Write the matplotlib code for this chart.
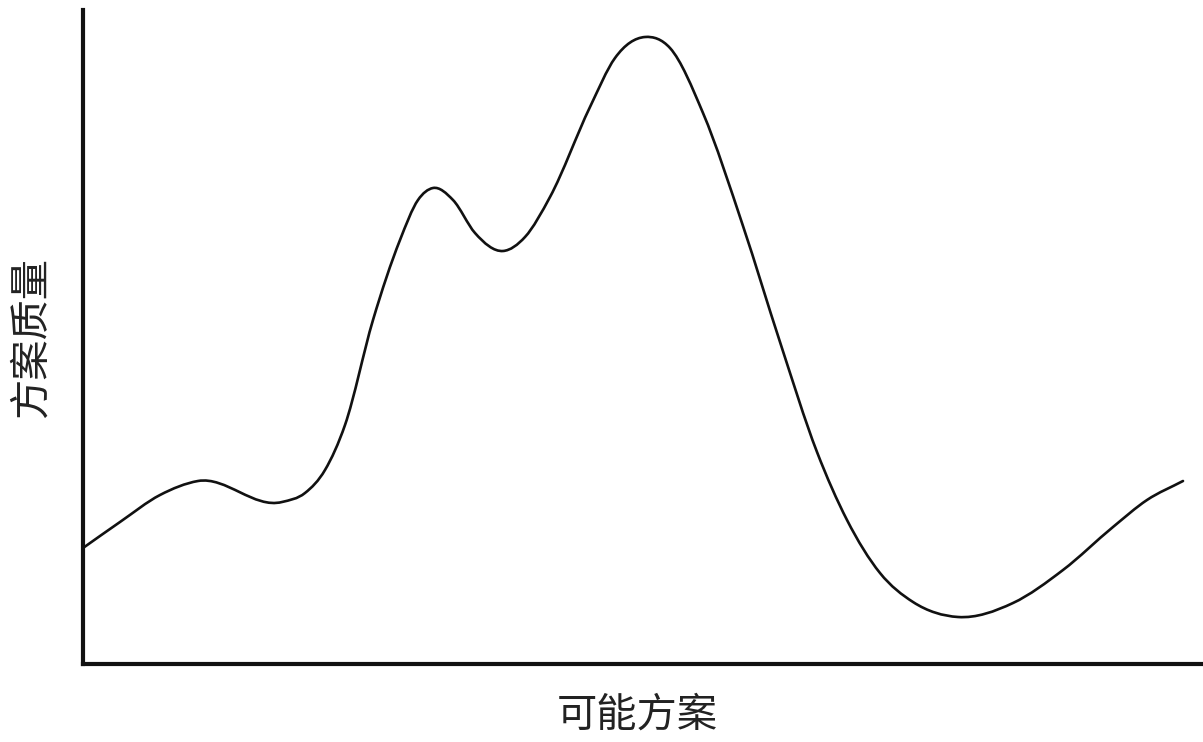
import matplotlib
matplotlib.use('Agg')
import matplotlib.pyplot as plt
from matplotlib.path import Path
from matplotlib.patches import PathPatch

plt.rcParams['font.family'] = ['Noto Sans CJK SC', 'DejaVu Sans']

# curve (x = position along the axis, y = height above the axis)
xs = [0, 37, 77, 115, 199, 222, 242, 262, 290, 317, 335, 350, 370, 392, 420,
      442, 467, 507, 532, 562, 587, 620, 660, 697, 734, 764, 797, 830, 875, 930,
      980, 1030, 1064, 1100]
ys = [116, 142, 169, 183, 162, 171, 194, 239, 344, 424, 464, 476, 464, 431,
      413, 427, 467, 557, 606, 627, 616, 551, 438, 322, 212, 144, 91, 62, 47, 61,
      94, 137, 164, 183]

x_label = '可能方案'
y_label = '方案质量'


def smooth_path(x, y):
    # bezier segments through the read points, slopes from the two neighbours
    n = len(x)
    h = [x[i + 1] - x[i] for i in range(n - 1)]
    d = [(y[i + 1] - y[i]) / h[i] for i in range(n - 1)]
    m = [d[0]] + [0.0] * (n - 2) + [d[-1]]
    for k in range(1, n - 1):
        m[k] = (d[k - 1] * h[k] + d[k] * h[k - 1]) / (h[k - 1] + h[k])
    verts = [(x[0], y[0])]
    codes = [Path.MOVETO]
    for i in range(n - 1):
        t = h[i] / 3.0
        verts += [(x[i] + t, y[i] + m[i] * t),
                  (x[i + 1] - t, y[i + 1] - m[i + 1] * t),
                  (x[i + 1], y[i + 1])]
        codes += [Path.CURVE4] * 3
    return Path(verts, codes)


fig = plt.figure(figsize=(12.03, 7.42), dpi=100)
ax = fig.add_axes([83 / 1203, 78 / 742, 1 - 83 / 1203, 654 / 742])
ax.add_patch(PathPatch(smooth_path(xs, ys), facecolor='none', edgecolor='#111111',
                       lw=1.9, capstyle='round'))
ax.set_xlim(0, 1120)
ax.set_ylim(0, 654)
ax.set_xticks([])
ax.set_yticks([])
for s in ['top', 'right']:
    ax.spines[s].set_visible(False)
for s in ['left', 'bottom']:
    ax.spines[s].set_linewidth(3.0)
    ax.spines[s].set_color('#111111')

fig.text(637 / 1203, 1 - 715 / 742, x_label, fontsize=29, ha='center', va='center',
         color='#222222')
fig.text(31 / 1203, 1 - 337 / 742, y_label, fontsize=29, ha='center', va='center',
         rotation=90, color='#222222')

fig.savefig('out.png', dpi=100)
